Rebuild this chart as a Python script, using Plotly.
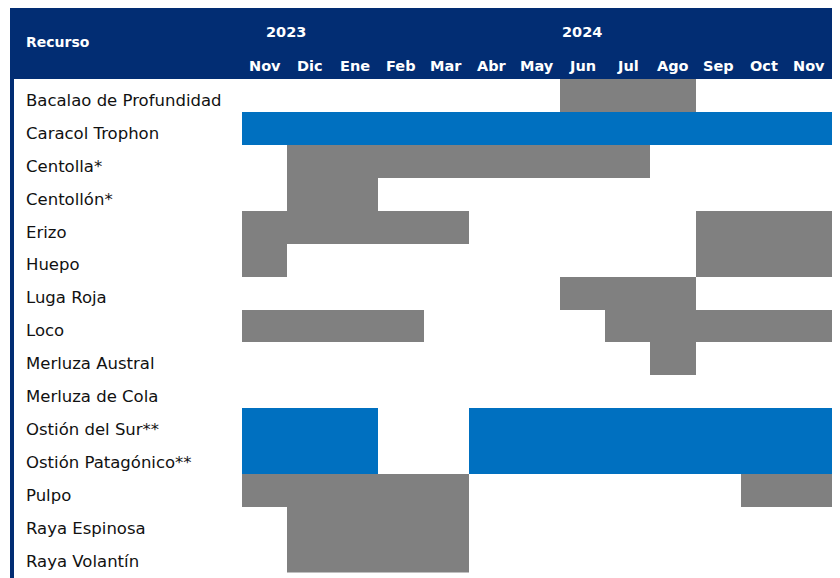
import plotly.graph_objects as go

# ---- data ----
recursos = [
    "Bacalao de Profundidad", "Caracol Trophon", "Centolla*", "Centollón*",
    "Erizo", "Huepo", "Luga Roja", "Loco", "Merluza Austral", "Merluza de Cola",
    "Ostión del Sur**", "Ostión Patagónico**", "Pulpo", "Raya Espinosa", "Raya Volantín",
]
meses = ["Nov", "Dic", "Ene", "Feb", "Mar", "Abr", "May", "Jun", "Jul", "Ago", "Sep", "Oct", "Nov"]
anios = ["2023", "2024"]
anio_pos = [0.48, 7.0]   # column position of the year labels
# 0 = sin veda, 1 = veda (gris), 2 = veda total/otro (azul)
estado = [
    [0, 0, 0, 0, 0, 0, 0, 1, 1, 1, 0, 0, 0],  # Bacalao de Profundidad
    [2, 2, 2, 2, 2, 2, 2, 2, 2, 2, 2, 2, 2],  # Caracol Trophon
    [0, 1, 1, 1, 1, 1, 1, 1, 1, 0, 0, 0, 0],  # Centolla*
    [0, 1, 1, 0, 0, 0, 0, 0, 0, 0, 0, 0, 0],  # Centollón*
    [1, 1, 1, 1, 1, 0, 0, 0, 0, 0, 1, 1, 1],  # Erizo
    [1, 0, 0, 0, 0, 0, 0, 0, 0, 0, 1, 1, 1],  # Huepo
    [0, 0, 0, 0, 0, 0, 0, 1, 1, 1, 0, 0, 0],  # Luga Roja
    [1, 1, 1, 1, 0, 0, 0, 0, 1, 1, 1, 1, 1],  # Loco
    [0, 0, 0, 0, 0, 0, 0, 0, 0, 1, 0, 0, 0],  # Merluza Austral
    [0, 0, 0, 0, 0, 0, 0, 0, 0, 0, 0, 0, 0],  # Merluza de Cola
    [2, 2, 2, 0, 0, 2, 2, 2, 2, 2, 2, 2, 2],  # Ostión del Sur**
    [2, 2, 2, 0, 0, 2, 2, 2, 2, 2, 2, 2, 2],  # Ostión Patagónico**
    [1, 1, 1, 1, 1, 0, 0, 0, 0, 0, 0, 1, 1],  # Pulpo
    [0, 1, 1, 1, 1, 0, 0, 0, 0, 0, 0, 0, 0],  # Raya Espinosa
    [0, 1, 1, 1, 1, 0, 0, 0, 0, 0, 0, 0, 0],  # Raya Volantín
]

# ---- layout helpers ----
OFF = 8                      # page body margin
W, H = 840 - OFF, 578 - OFF
NAVY = "#022d73"
GRAY = "#808080"
BLUE = "#0070c0"
FONT = "DejaVu Sans"


def px(x):
    return (x - OFF) / W


def py(y):
    return 1 - (y - OFF) / H


fig = go.Figure(go.Heatmap(
    z=estado,
    x=list(range(len(meses))),
    y=list(range(len(recursos))),
    zmin=0, zmax=2,
    colorscale=[[0, "white"], [0.3333, "white"], [0.3333, GRAY], [0.6667, GRAY],
                [0.6667, BLUE], [1, BLUE]],
    showscale=False, hoverinfo="skip", xgap=0, ygap=0,
))

annotations = []
# row labels
for i, r in enumerate(recursos):
    annotations.append(dict(x=px(24), xref="paper", xanchor="left", y=i, yref="y",
                            yanchor="middle", yshift=-5, text=r, showarrow=False,
                            font=dict(family=FONT, size=16.5, color="#111111")))
# month labels
for j, m in enumerate(meses):
    annotations.append(dict(x=j, xref="x", y=py(66), yref="paper", yanchor="middle",
                            text="<b>" + m + "</b>", showarrow=False,
                            font=dict(family=FONT, size=14.5, color="white")))
# year labels
for a, p in zip(anios, anio_pos):
    annotations.append(dict(x=p, xref="x", y=py(32), yref="paper", yanchor="middle",
                            text="<b>" + a + "</b>", showarrow=False,
                            font=dict(family=FONT, size=14.5, color="white")))
annotations.append(dict(x=px(24), xref="paper", xanchor="left", y=py(42), yref="paper",
                        yanchor="middle", text="<b>Recurso</b>", showarrow=False,
                        font=dict(family=FONT, size=14, color="white")))

shapes = [
    dict(type="rect", xref="paper", yref="paper", x0=px(10), x1=px(836), y0=py(79), y1=py(5),
         fillcolor=NAVY, line=dict(width=0), layer="above"),
    dict(type="rect", xref="paper", yref="paper", x0=px(10), x1=px(14), y0=0, y1=py(5),
         fillcolor=NAVY, line=dict(width=0), layer="above"),
    dict(type="rect", xref="paper", yref="paper", x0=px(832), x1=px(836), y0=0, y1=py(5),
         fillcolor=NAVY, line=dict(width=0), layer="above"),
]

fig.update_layout(
    width=W, height=H,
    margin=dict(l=0, r=0, t=0, b=0),
    paper_bgcolor="white", plot_bgcolor="white",
    xaxis=dict(domain=[px(242), px(832)], range=[-0.5, len(meses) - 0.5],
               showgrid=False, zeroline=False, showticklabels=False, ticks="", fixedrange=True),
    yaxis=dict(domain=[py(572.5), py(79)], range=[len(recursos) - 0.5, -0.5],
               showgrid=False, zeroline=False, showticklabels=False, ticks="", fixedrange=True),
    annotations=annotations,
    shapes=shapes,
    showlegend=False,
)

fig.write_html("out.html")
